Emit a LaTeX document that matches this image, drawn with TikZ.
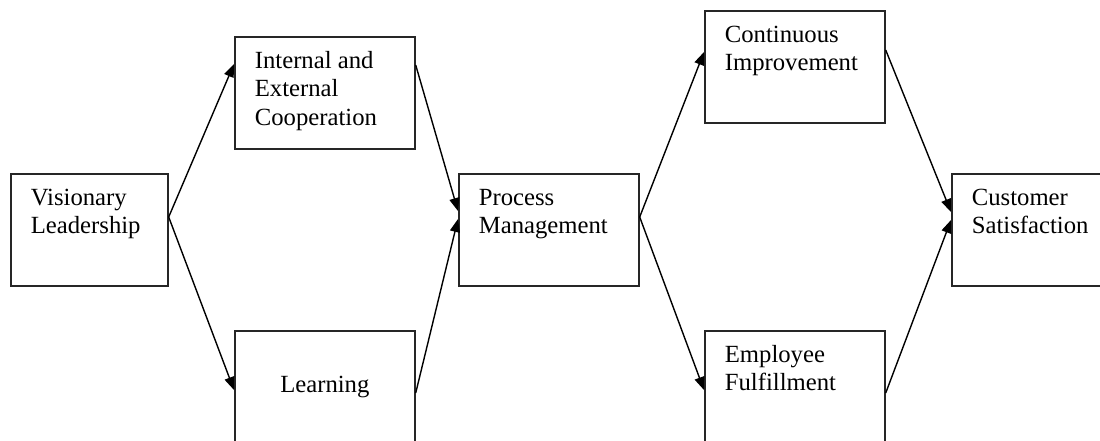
\documentclass[tikz,border=0pt]{standalone}
\usepackage{fontspec}
\setmainfont{Liberation Serif}
\usetikzlibrary{arrows.meta,calc}

% box content: text set from the top left corner, or centred
\newlength\boxh
\setlength\boxh{112pt}
\newcommand\toptext[2]{\parbox[t][\boxh][t]{#1}{\raggedright\leftskip=20pt\rule{0pt}{31.5pt}#2}}
\newcommand\midtext[2]{\parbox[t][\boxh][c]{#1}{\centering #2}}

\tikzset{
  stagebox/.style={draw=black!85, line width=1.7pt, inner sep=0pt, anchor=north west,
    font=\fontsize{24.7pt}{28.5pt}\selectfont, fill=white},
  flow/.style={draw=black, line width=1.4pt, -{Triangle[length=13pt,width=10pt]}},
}

\begin{document}
\begin{tikzpicture}[x=1pt, y=-1pt]
  \useasboundingbox (0,0) rectangle (1100,440);
  \clip (0,0) rectangle (1100,440);
  \fill[white] (0,0) rectangle (1100,440);

  % stages
  \node[stagebox] (vl) at (10,173)  {\toptext{157pt}{Visionary\\Leadership}};
  \node[stagebox] (ie) at (234,36)  {\toptext{180pt}{Internal and\\External\\Cooperation}};
  \node[stagebox] (le) at (234,330) {\midtext{180pt}{Learning}};
  \node[stagebox] (pm) at (458,173) {\toptext{180pt}{Process\\Management}};
  \node[stagebox] (ci) at (704,10)  {\toptext{180pt}{Continuous\\Improvement}};
  \node[stagebox] (ef) at (704,330) {\toptext{180pt}{Employee\\Fulfillment}};
  \node[stagebox] (cs) at (951,173) {\toptext{180pt}{Customer\\Satisfaction}};

  % connectors
  \draw[flow] ($(vl.north east)+(0,44)$) -- ($(ie.north west)+(0,28)$);
  \draw[flow] ($(vl.north east)+(0,44)$) -- ($(le.north west)+(0,60)$);
  \draw[flow] ($(ie.north east)+(0,29)$) -- ($(pm.north west)+(0,38)$);
  \draw[flow] ($(le.north east)+(0,63)$) -- ($(pm.north west)+(0,46)$);
  \draw[flow] ($(pm.north east)+(0,44)$) -- ($(ci.north west)+(0,42)$);
  \draw[flow] ($(pm.north east)+(0,44)$) -- ($(ef.north west)+(0,60)$);
  \draw[flow] ($(ci.north east)+(0,40)$) -- ($(cs.north west)+(0,39)$);
  \draw[flow] ($(ef.north east)+(0,63)$) -- ($(cs.north west)+(0,47)$);
\end{tikzpicture}
\end{document}
